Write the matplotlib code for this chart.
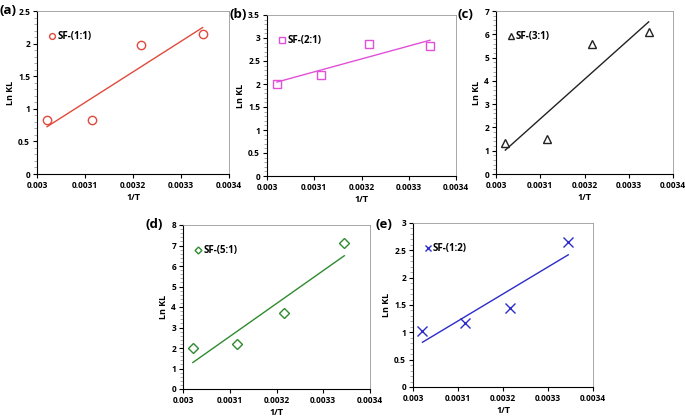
import numpy as np
import matplotlib
matplotlib.use("Agg")
import matplotlib.pyplot as plt
from matplotlib.ticker import MultipleLocator, FormatStrFormatter

plt.rcParams['font.family'] = ['Open Sans', 'DejaVu Sans']
plt.rcParams['font.weight'] = 'bold'

# 1/T values (same for all samples)
inv_t = [0.003021, 0.003115, 0.003216, 0.003345]

# Ln KL for each sample
ln_kl_a = [0.83, 0.83, 1.98, 2.14]
ln_kl_b = [2.01, 2.20, 2.86, 2.82]
ln_kl_c = [1.32, 1.50, 5.60, 6.10]
ln_kl_d = [2.00, 2.20, 3.72, 7.10]
ln_kl_e = [1.03, 1.17, 1.45, 2.65]

labels = ['SF-(1:1)', 'SF-(2:1)', 'SF-(3:1)', 'SF-(5:1)', 'SF-(1:2)']
tags = ['(a)', '(b)', '(c)', '(d)', '(e)']
ymax = [2.5, 3.5, 7, 8, 3]
ystep = [0.5, 0.5, 1, 1, 0.5]

W, H = 685, 418
fig = plt.figure(figsize=(W / 100, H / 100), dpi=100)

# axes boxes in pixels: left, top, right, bottom
boxes = [(37, 11, 229, 174), (267, 15, 456, 176), (496, 11, 673, 174),
         (183, 225, 370, 389), (413, 223, 593, 387)]
# panel tag positions (pixels, centre-left)
tag_pos = [(0, 10), (229, 15), (457, 15), (145, 225), (376, 225)]
styles = [
    dict(marker='o', color='#e04a3c', ms=6),
    dict(marker='s', color='#e050d8', ms=6),
    dict(marker='^', color='#222222', ms=6),
    dict(marker='D', color='#2e8b2e', ms=5),
    dict(marker='x', color='#2c2cc8', ms=7),
]
series = [ln_kl_a, ln_kl_b, ln_kl_c, ln_kl_d, ln_kl_e]

for i, y in enumerate(series):
    l, t, r, b = boxes[i]
    ax = fig.add_axes([l / W, 1 - b / H, (r - l) / W, (b - t) / H])
    st = styles[i]
    x = np.array(inv_t)
    yy = np.array(y)
    ax.plot(x, yy, linestyle='none', marker=st['marker'], ms=st['ms'],
            mfc='none', mec=st['color'], mew=1.0, label=labels[i])
    # linear trend line
    k, c0 = np.polyfit(x, yy, 1)
    ax.plot(x[[0, -1]], k * x[[0, -1]] + c0, color=st['color'], lw=1.0)

    ax.set_xlim(0.003, 0.0034)
    ax.set_ylim(0, ymax[i])
    ax.xaxis.set_major_locator(MultipleLocator(0.0001))
    ax.xaxis.set_major_formatter(FormatStrFormatter('%g'))
    ax.yaxis.set_major_locator(MultipleLocator(ystep[i]))
    ax.yaxis.set_major_formatter(FormatStrFormatter('%g'))
    ax.yaxis.set_minor_locator(MultipleLocator(ystep[i] / 5))
    ax.tick_params(labelsize=6, length=3, width=0.8, pad=2)
    ax.tick_params(axis='y', which='minor', length=2, width=0.5, color='#888888')
    for s in ['top', 'right']:
        ax.spines[s].set_color('#999999')
        ax.spines[s].set_linewidth(0.6)
    for s in ['left', 'bottom']:
        ax.spines[s].set_linewidth(0.8)
    ax.set_xlabel('1/T', fontsize=6.5, fontweight='bold', labelpad=2)
    ax.set_ylabel('Ln KL', fontsize=6.5, fontweight='bold', labelpad=2)
    ax.legend(loc='upper left', frameon=False, fontsize=7, handletextpad=0.1,
              borderaxespad=0.0, handlelength=0.8, markerscale=0.7,
              bbox_to_anchor=(0.04, 0.9))
    tx, ty = tag_pos[i]
    fig.text(tx / W, 1 - ty / H, tags[i],
             fontsize=9.5, fontweight='bold', va='center', ha='left')

fig.savefig('out.png', dpi=100)
